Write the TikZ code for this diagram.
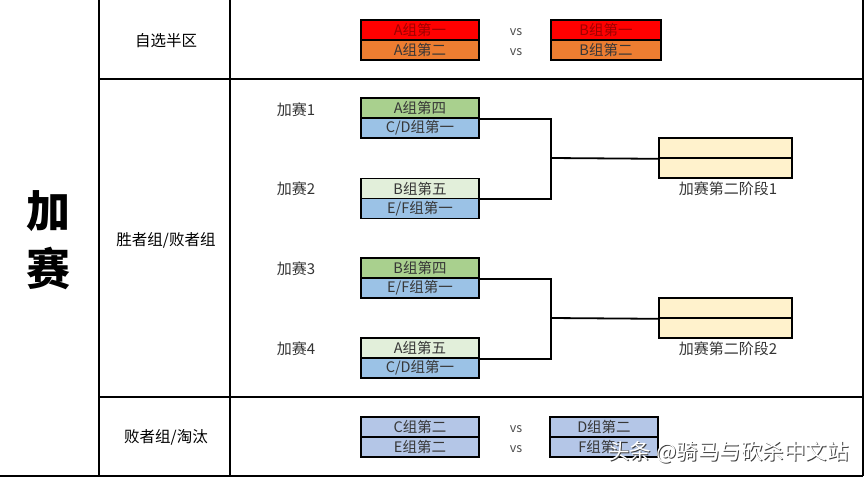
\documentclass[tikz,border=0pt]{standalone}
\usepackage{fontspec}
\setmainfont{Noto Sans CJK SC}
\definecolor{cred}{RGB}{255,0,0}
\definecolor{corange}{RGB}{237,125,49}
\definecolor{cgreen}{RGB}{169,208,142}
\definecolor{clgreen}{RGB}{226,239,218}
\definecolor{cblue}{RGB}{155,194,230}
\definecolor{cblue2}{RGB}{180,198,231}
\definecolor{cstage}{RGB}{255,242,204}
\definecolor{txt}{RGB}{55,55,55}
\definecolor{txtred}{RGB}{160,0,0}
\begin{document}
\begin{tikzpicture}[x=1pt,y=-1pt,
  cell/.style={draw=black,line width=1.6pt,minimum width=118pt,minimum height=20pt,inner sep=0pt,font=\fontsize{14.5}{15}\selectfont,text=txt},
  cellb/.style={cell,minimum width=110pt},
  celld/.style={cell,minimum width=108pt},
  stage/.style={cell,minimum width=133pt,fill=cstage},
  grid/.style={line width=1.2pt},
  link/.style={line width=1.8pt},
  lbl/.style={font=\fontsize{15}{16}\selectfont,text=black!80},
  vs/.style={font=\fontsize{12.5}{13}\selectfont,text=black!70},
  sec/.style={font=\fontsize{15.5}{16}\selectfont,text=black}]
\useasboundingbox (0,0) rectangle (865,477);
% grid
\coordinate (c1t) at (99,0);   \coordinate (c1b) at (99,476);
\coordinate (c2t) at (230,0);  \coordinate (c2b) at (230,476);
\coordinate (c3t) at (863,0);  \coordinate (c3b) at (863,476);
\coordinate (r1l) at (99,79);  \coordinate (r1r) at (863,79);
\coordinate (r2l) at (99,397); \coordinate (r2r) at (863,397);
\coordinate (r3l) at (0,476);  \coordinate (r3r) at (863,476);
\draw[grid] (c1t) -- (c1b);
\draw[grid] (c2t) -- (c2b);
\draw[grid] (c3t) -- (c3b);
\draw[grid] (r1l) -- (r1r);
\draw[grid] (r2l) -- (r2r);
\draw[grid] (r3l) -- (r3r);
% left titles
\node[font=\fontsize{44}{58}\selectfont\bfseries,align=center] (title) at (49,240) {加\\赛};
\node[sec] (s1) at (166,41) {自选半区};
\node[sec] (s2) at (166,240) {胜者组/败者组};
\node[sec] (s3) at (166,437) {败者组/淘汰};
% top section
\node[cell,fill=cred,text=txtred] (A1) at (420,30) {A组第一};
\node[cell,fill=corange] (A2) at (420,50) {A组第二};
\node[cellb,fill=cred,text=txtred] (B1) at (606,30) {B组第一};
\node[cellb,fill=corange] (B2) at (606,50) {B组第二};
\node[vs] (vs1) at (516,32) {vs};
\node[vs] (vs2) at (516,52) {vs};
% bracket boxes
\node[cell,fill=cgreen] (m1a) at (420,108) {A组第四};
\node[cell,fill=cblue] (m1b) at (420,128) {C/D组第一};
\node[cell,fill=clgreen] (m2a) at (420,188.5) {B组第五};
\node[cell,fill=cblue] (m2b) at (420,208.5) {E/F组第一};
\node[cell,fill=cgreen] (m3a) at (420,268) {B组第四};
\node[cell,fill=cblue] (m3b) at (420,288) {E/F组第一};
\node[cell,fill=clgreen] (m4a) at (420,348) {A组第五};
\node[cell,fill=cblue] (m4b) at (420,368) {C/D组第一};
\node[lbl] (l1) at (296,110) {加赛1};
\node[lbl] (l2) at (296,189) {加赛2};
\node[lbl] (l3) at (296,269) {加赛3};
\node[lbl] (l4) at (296,349) {加赛4};
% stage boxes
\node[stage] (st1a) at (725.5,148) {};
\node[stage] (st1b) at (725.5,168) {};
\node[stage] (st2a) at (725.5,308) {};
\node[stage] (st2b) at (725.5,328) {};
\node[lbl] (sl1) at (728,189) {加赛第二阶段1};
\node[lbl] (sl2) at (728,349) {加赛第二阶段2};
% bracket connectors
\coordinate (j1) at (551,158);
\coordinate (j2) at (551,318);
\draw[link] (m1a.south east) -| (j1) |- (m2a.south east);
\draw[link] (j1) -- (st1a.south west);
\draw[link] (m3a.south east) -| (j2) |- (m4a.south east);
\draw[link] (j2) -- (st2a.south west);
% bottom section
\node[cell,fill=cblue2] (C2) at (420,427) {C组第二};
\node[cell,fill=cblue2] (E2) at (420,447) {E组第二};
\node[celld,fill=cblue2] (D2) at (604,427) {D组第二};
\node[celld,fill=cblue2] (F2) at (604,447) {F组第二};
\node[vs] (vs3) at (516,429) {vs};
\node[vs] (vs4) at (516,449) {vs};
% watermark
\node[font=\fontsize{21.5}{22}\selectfont,text=black!75] (wmS) at (729.5,453.5) {头条 @骑马与砍杀中文站};
\node[font=\fontsize{21.5}{22}\selectfont,text=white] (wm) at (728.5,452.5) {头条 @骑马与砍杀中文站};
\end{tikzpicture}
\end{document}
